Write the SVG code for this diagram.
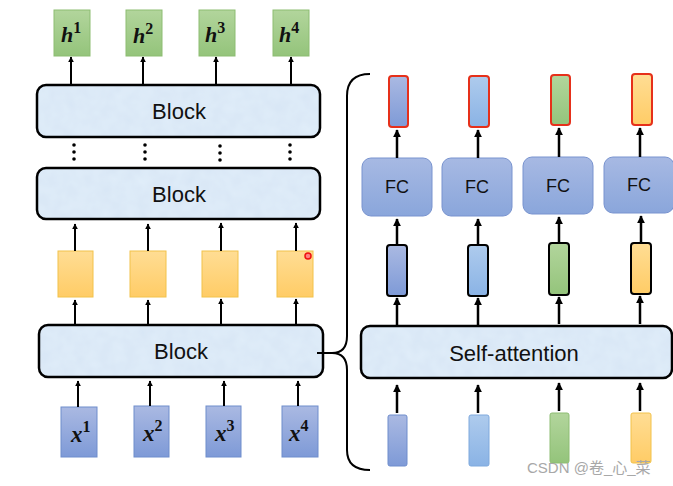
<svg xmlns="http://www.w3.org/2000/svg" width="673" height="486" viewBox="0 0 673 486">
<defs>
<linearGradient id="gBlue" x1="0" y1="0" x2="0" y2="1"><stop offset="0" stop-color="#aab9e2"/><stop offset="1" stop-color="#7e9ad7"/></linearGradient>
<linearGradient id="gLBlue" x1="0" y1="0" x2="0" y2="1"><stop offset="0" stop-color="#aecbed"/><stop offset="1" stop-color="#8ab3e5"/></linearGradient>
<linearGradient id="gGreen" x1="0" y1="0" x2="0" y2="1"><stop offset="0" stop-color="#b2d59c"/><stop offset="1" stop-color="#94c47b"/></linearGradient>
<linearGradient id="gYellow" x1="0" y1="0" x2="0" y2="1"><stop offset="0" stop-color="#ffdd94"/><stop offset="1" stop-color="#ffcc66"/></linearGradient>
<linearGradient id="gFC" x1="0" y1="0" x2="0" y2="1"><stop offset="0" stop-color="#a7b9e3"/><stop offset="1" stop-color="#8aa6db"/></linearGradient>
<marker id="ah" viewBox="0 0 10 10" refX="9" refY="5" markerWidth="6" markerHeight="6" markerUnits="userSpaceOnUse" orient="auto"><path d="M0,0 L10,5 L0,10 z" fill="#000"/></marker>
<marker id="ahb" viewBox="0 0 10 10" refX="9" refY="5" markerWidth="8" markerHeight="8" markerUnits="userSpaceOnUse" orient="auto"><path d="M0,0 L10,5 L0,10 z" fill="#000"/></marker>
<filter id="tex" x="0" y="0" width="100%" height="100%">
<feTurbulence type="fractalNoise" baseFrequency="0.08" numOctaves="2" seed="3" result="n"/>
<feColorMatrix in="n" type="matrix" values="0 0 0 0 0.75  0 0 0 0 0.85  0 0 0 0 0.95  0 0 0 -1.2 1" result="c"/>
<feComposite in="c" in2="SourceGraphic" operator="in" result="t"/>
<feMerge><feMergeNode in="SourceGraphic"/><feMergeNode in="t"/></feMerge>
</filter>
</defs>
<style>
.blkf{fill:#d9e7f6;stroke:none}
.blks{fill:none;stroke:#000;stroke-width:2.5}
.btxt{font-family:"Liberation Sans",Arial,sans-serif;font-size:22px;fill:#111;text-anchor:middle}
.fctxt{font-family:"Liberation Sans",Arial,sans-serif;font-size:18px;fill:#111;text-anchor:middle}
.math{font-family:"Liberation Serif","Times New Roman",serif;font-weight:bold;fill:#111}
.g{fill:url(#gGreen);stroke:#8dbd72;stroke-width:1}
.y{fill:url(#gYellow);stroke:#f2c24a;stroke-width:1}
.b{fill:url(#gBlue);stroke:#6f8dcc;stroke-width:1}
.lb{fill:url(#gLBlue);stroke:#7fa9dd;stroke-width:1}
.fc{fill:url(#gFC);stroke:#7893cf;stroke-width:1}
.red{stroke:#e6301a;stroke-width:2}
.blkb{stroke:#000;stroke-width:2}
.ar{stroke:#000;stroke-width:2;fill:none;marker-end:url(#ah)}
.arb{stroke:#000;stroke-width:2.5;fill:none;marker-end:url(#ahb)}
</style>

<g id="h1"><rect class="g" x="54" y="10" width="36" height="46"/><text class="math" x="61" y="42" font-size="22"><tspan font-style="italic">h</tspan><tspan dy="-9" font-size="16">1</tspan></text></g>
<g id="h2"><rect class="g" x="126" y="10" width="36" height="46"/><text class="math" x="133" y="43" font-size="22"><tspan font-style="italic">h</tspan><tspan dy="-9" font-size="16">2</tspan></text></g>
<g id="h3"><rect class="g" x="199" y="10" width="36" height="46"/><text class="math" x="205" y="42" font-size="22"><tspan font-style="italic">h</tspan><tspan dy="-9" font-size="16">3</tspan></text></g>
<g id="h4"><rect class="g" x="273" y="10" width="36" height="46"/><text class="math" x="279" y="42" font-size="22"><tspan font-style="italic">h</tspan><tspan dy="-9" font-size="16">4</tspan></text></g>

<g id="block3"><rect class="blkf" filter="url(#tex)" x="37" y="85" width="283" height="52" rx="9"/><rect class="blks" x="37" y="85" width="283" height="52" rx="9"/><text class="btxt" x="179" y="119">Block</text></g>
<g id="dots" fill="#000">
<circle cx="74" cy="145" r="1.8"/><circle cx="74" cy="152" r="1.8"/><circle cx="74" cy="159" r="1.8"/>
<circle cx="145" cy="145" r="1.8"/><circle cx="145" cy="152" r="1.8"/><circle cx="145" cy="159" r="1.8"/>
<circle cx="220" cy="146" r="1.8"/><circle cx="220" cy="153" r="1.8"/><circle cx="220" cy="160" r="1.8"/>
<circle cx="290" cy="145" r="1.8"/><circle cx="290" cy="152" r="1.8"/><circle cx="290" cy="159" r="1.8"/>
</g>
<g id="block2"><rect class="blkf" filter="url(#tex)" x="37" y="168" width="283" height="51" rx="9"/><rect class="blks" x="37" y="168" width="283" height="51" rx="9"/><text class="btxt" x="179" y="202">Block</text></g>

<g id="y1"><rect class="y" x="58" y="251" width="35" height="46"/></g>
<g id="y2"><rect class="y" x="130" y="251" width="36" height="46"/></g>
<g id="y3"><rect class="y" x="202" y="251" width="36" height="46"/></g>
<g id="y4"><rect class="y" x="277" y="251" width="36" height="46"/></g>
<circle cx="308" cy="256" r="3" fill="#ff8080" stroke="#ee1010" stroke-width="1.5"/>

<g id="block1"><rect class="blkf" filter="url(#tex)" x="39" y="325" width="284" height="52" rx="9"/><rect class="blks" x="39" y="325" width="284" height="52" rx="9"/><text class="btxt" x="181" y="359">Block</text></g>

<g id="x1"><rect class="b" x="61" y="407" width="36" height="50"/><text class="math" x="71" y="442" font-size="23"><tspan font-style="italic">x</tspan><tspan dy="-10" font-size="16">1</tspan></text></g>
<g id="x2"><rect class="b" x="134" y="406" width="35" height="51"/><text class="math" x="143" y="441" font-size="23"><tspan font-style="italic">x</tspan><tspan dy="-10" font-size="16">2</tspan></text></g>
<g id="x3"><rect class="b" x="206" y="406" width="35" height="51"/><text class="math" x="215" y="441" font-size="23"><tspan font-style="italic">x</tspan><tspan dy="-10" font-size="16">3</tspan></text></g>
<g id="x4"><rect class="b" x="282" y="406" width="36" height="51"/><text class="math" x="289" y="441" font-size="23"><tspan font-style="italic">x</tspan><tspan dy="-10" font-size="16">4</tspan></text></g>

<g id="out1"><rect class="b red" x="389" y="76" width="19" height="51" rx="3"/></g>
<g id="out2"><rect class="lb red" x="469" y="76" width="20" height="51" rx="3"/></g>
<g id="out3"><rect class="g red" x="551" y="75" width="19" height="50" rx="3"/></g>
<g id="out4"><rect class="y red" x="632" y="74" width="20" height="51" rx="3"/></g>

<g id="fc1"><rect class="fc" x="362" y="158" width="70" height="58" rx="9"/><text class="fctxt" x="397" y="193">FC</text></g>
<g id="fc2"><rect class="fc" x="442" y="158" width="70" height="58" rx="9"/><text class="fctxt" x="477" y="193">FC</text></g>
<g id="fc3"><rect class="fc" x="523" y="157" width="70" height="57" rx="9"/><text class="fctxt" x="558" y="192">FC</text></g>
<g id="fc4"><rect class="fc" x="604" y="157" width="70" height="56" rx="9"/><text class="fctxt" x="639" y="191">FC</text></g>

<g id="mid1"><rect class="b blkb" x="387" y="245" width="20" height="51" rx="3"/></g>
<g id="mid2"><rect class="lb blkb" x="468" y="245" width="20" height="51" rx="3"/></g>
<g id="mid3"><rect class="g blkb" x="549" y="243" width="20" height="52" rx="3"/></g>
<g id="mid4"><rect class="y blkb" x="631" y="243" width="20" height="51" rx="3"/></g>

<g id="selfattn"><rect class="blkf" filter="url(#tex)" x="361" y="326" width="311" height="52" rx="9"/><rect class="blks" x="361" y="326" width="311" height="52" rx="9"/><text class="btxt" x="514" y="361" font-size="24">Self-attention</text></g>

<g id="in1"><rect class="b" x="388" y="415" width="19" height="51" rx="2"/></g>
<g id="in2"><rect class="lb" x="469" y="415" width="20" height="51" rx="2"/></g>
<g id="in3"><rect class="g" x="550" y="413" width="19" height="50" rx="2"/></g>
<g id="in4"><rect class="y" x="631" y="413" width="20" height="50" rx="2"/></g>

<g id="connectors">
<line class="ar" x1="71" y1="85" x2="71" y2="57"/>
<line class="ar" x1="143" y1="85" x2="143" y2="57"/>
<line class="ar" x1="216" y1="85" x2="216" y2="57"/>
<line class="ar" x1="291" y1="85" x2="291" y2="57"/>
<line class="ar" x1="75" y1="251" x2="75" y2="224"/>
<line class="ar" x1="148" y1="251" x2="148" y2="224"/>
<line class="ar" x1="221" y1="251" x2="221" y2="223"/>
<line class="ar" x1="296" y1="251" x2="296" y2="223"/>
<line class="ar" x1="75" y1="325" x2="75" y2="300"/>
<line class="ar" x1="148" y1="325" x2="148" y2="300"/>
<line class="ar" x1="221" y1="325" x2="221" y2="299"/>
<line class="ar" x1="296" y1="325" x2="296" y2="299"/>
<line class="ar" x1="78" y1="407" x2="78" y2="381"/>
<line class="ar" x1="150" y1="406" x2="150" y2="381"/>
<line class="ar" x1="224" y1="406" x2="224" y2="381"/>
<line class="ar" x1="298" y1="406" x2="298" y2="381"/>
<line class="arb" x1="397" y1="158" x2="397" y2="130"/>
<line class="arb" x1="478" y1="158" x2="478" y2="130"/>
<line class="arb" x1="559" y1="157" x2="559" y2="128"/>
<line class="arb" x1="640" y1="157" x2="640" y2="128"/>
<line class="arb" x1="397" y1="245" x2="397" y2="219"/>
<line class="arb" x1="478" y1="245" x2="478" y2="219"/>
<line class="arb" x1="559" y1="243" x2="559" y2="217"/>
<line class="arb" x1="641" y1="243" x2="641" y2="216"/>
<line class="arb" x1="397" y1="326" x2="397" y2="298"/>
<line class="arb" x1="478" y1="326" x2="478" y2="298"/>
<line class="arb" x1="559" y1="324" x2="559" y2="297"/>
<line class="arb" x1="640" y1="324" x2="640" y2="296"/>
<line class="arb" x1="397" y1="413" x2="397" y2="385"/>
<line class="arb" x1="478" y1="413" x2="478" y2="385"/>
<line class="arb" x1="559" y1="411" x2="559" y2="383"/>
<line class="arb" x1="640" y1="411" x2="640" y2="383"/>
<path d="M317,353 L333,353" stroke="#000" stroke-width="2" fill="none"/>
<path d="M370,74 Q347,74 347,96 L347,336 Q347,353 332,353 Q347,353 347,370 L347,450 Q347,470 370,470" stroke="#000" stroke-width="2" fill="none"/>
</g>
<text x="527" y="473" font-family="'Liberation Sans','Noto Sans CJK SC',sans-serif" font-size="15" fill="#a8a8a8">CSDN @卷_心_菜</text>
</svg>
